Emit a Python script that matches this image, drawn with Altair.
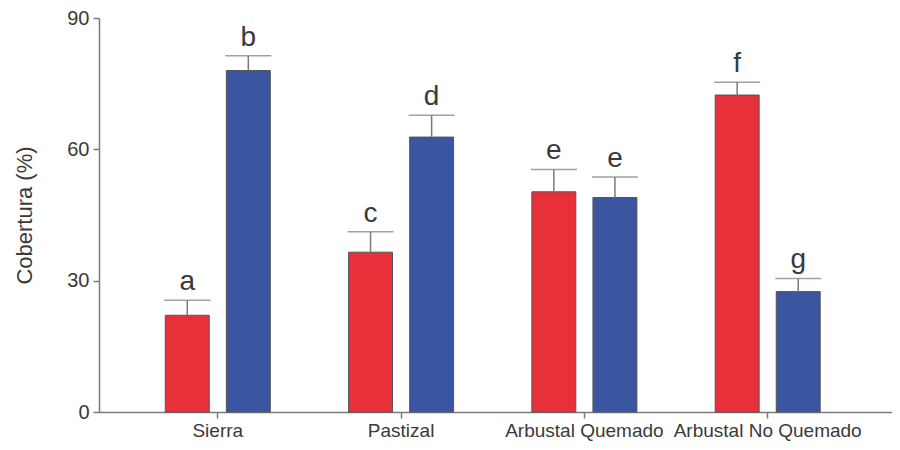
import altair as alt
import pandas as pd

grupos = ["Sierra", "Pastizal", "Arbustal Quemado", "Arbustal No Quemado"]
series = ["rojo", "azul"]
valores_rojo = [22.1, 36.5, 50.3, 72.4]
valores_azul = [78.0, 62.8, 49.0, 27.5]
error_rojo = [3.4, 4.7, 5.1, 2.9]
error_azul = [3.4, 5.0, 4.7, 3.0]
letras_rojo = ["a", "c", "e", "f"]
letras_azul = ["b", "d", "e", "g"]
colores = ["#E8303A", "#3A56A0"]

rows = []
for i, g in enumerate(grupos):
    rows.append({"grupo": g, "serie": "rojo", "valor": valores_rojo[i],
                 "sup": valores_rojo[i] + error_rojo[i], "letra": letras_rojo[i]})
    rows.append({"grupo": g, "serie": "azul", "valor": valores_azul[i],
                 "sup": valores_azul[i] + error_azul[i], "letra": letras_azul[i]})
df = pd.DataFrame(rows)

FONT = "Liberation Sans"
GRAY = "#7a7a7a"
TXT = "#3a3a3a"

x = alt.X("grupo:N", sort=grupos,
          scale=alt.Scale(paddingInner=0.427, paddingOuter=0.3766, align=0.48),
          axis=alt.Axis(title=None, labelAngle=0, labelFontSize=19, labelFont=FONT,
                        labelColor=TXT, tickSize=6, tickColor=GRAY, tickWidth=1.5,
                        domainColor=GRAY, domainWidth=1.5, labelPadding=3,
                        labelOverlap=False, labelLimit=400, grid=False))
xo = alt.XOffset("serie:N", sort=series,
                 scale=alt.Scale(paddingInner=0.28, paddingOuter=0))

base = alt.Chart(df)

bars = base.mark_bar(stroke="#555555", strokeWidth=1).encode(
    x=x, xOffset=xo,
    y=alt.Y("valor:Q", scale=alt.Scale(domain=[0, 90], nice=False),
            axis=alt.Axis(values=[0, 30, 60, 90], title="Cobertura (%)", grid=False,
                          titleFont=FONT, titleFontSize=22, titleFontWeight="normal",
                          titleColor=TXT, titlePadding=30,
                          labelFont=FONT, labelFontSize=20, labelColor=TXT,
                          labelPadding=4, tickSize=6, tickColor=GRAY, tickWidth=1.5,
                          domainColor=GRAY, domainWidth=1.5)),
    color=alt.Color("serie:N", scale=alt.Scale(domain=series, range=colores), legend=None),
)

whisk = base.mark_rule(color=GRAY, strokeWidth=1.5).encode(
    x=x, xOffset=xo, y="valor:Q", y2="sup:Q"
)

caps = base.mark_tick(color=GRAY, thickness=1.5, size=46).encode(
    x=x, xOffset=xo, y="sup:Q"
)

letters = base.mark_text(baseline="bottom", dy=-4, fontSize=28, font=FONT, color=TXT).encode(
    x=x, xOffset=xo, y="sup:Q", text="letra:N"
)

chart = alt.layer(bars, whisk, caps, letters).properties(
    width=793, height=394,
    autosize=alt.AutoSizeParams(type="none"),
    padding={"left": 91, "top": 10, "right": 0, "bottom": 30},
).configure_view(stroke=None)

chart.save("out.html", embed_options={"renderer": "svg", "actions": False})
